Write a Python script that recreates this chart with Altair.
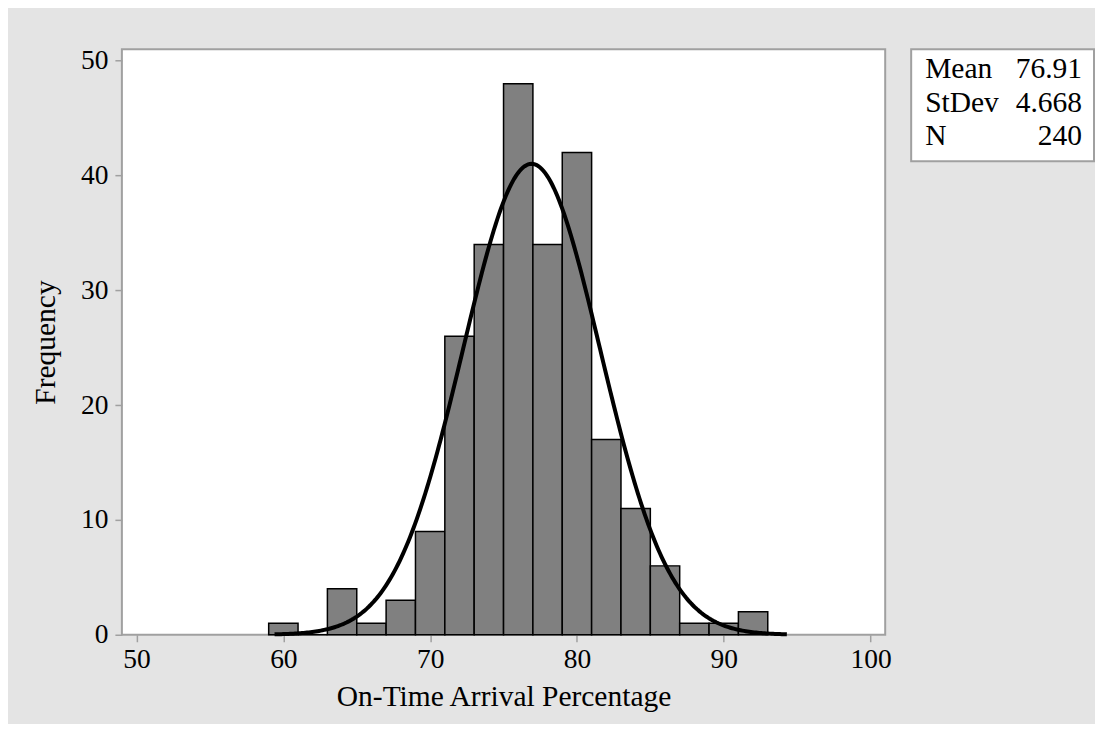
import altair as alt
import numpy as np
import pandas as pd

# ---- data ----
bin_starts = [59, 61, 63, 65, 67, 69, 71, 73, 75, 77, 79, 81, 83, 85, 87, 89, 91]
bin_ends = [61, 63, 65, 67, 69, 71, 73, 75, 77, 79, 81, 83, 85, 87, 89, 91, 93]
counts = [1, 0, 4, 1, 3, 9, 26, 34, 48, 34, 42, 17, 11, 6, 1, 1, 2]

stat_labels = ["Mean", "StDev", "N"]
stat_values = ["76.91", "4.668", "240"]
mean_val = 76.91
sd_val = 4.668
n_val = 240
bin_width = 2
curve_range = [59.4, 94.3]

x_ticks = [50, 60, 70, 80, 90, 100]
y_ticks = [0, 10, 20, 30, 40, 50]

# ---- tables ----
bars_df = pd.DataFrame({"start": bin_starts, "end": bin_ends, "count": counts, "zero": 0})

# fitted normal curve defined by the Mean / StDev / N shown in the chart's box
xs = np.linspace(curve_range[0], curve_range[1], 300)
ys = n_val * bin_width * np.exp(-0.5 * ((xs - mean_val) / sd_val) ** 2) / (sd_val * np.sqrt(2 * np.pi))
curve_df = pd.DataFrame({"x": xs, "y": ys})

FONT = "Liberation Serif"
W, H = 764, 586

x_scale = alt.Scale(domain=[49, 101], nice=False, zero=False)
y_scale = alt.Scale(domain=[0, 51], nice=False)

x_axis = alt.Axis(
    values=x_ticks, grid=False, domain=False, ticks=True, tickSize=7, tickColor="#a0a0a0",
    tickWidth=1.5, labelFont=FONT, labelFontSize=27.5, labelColor="black", labelPadding=4,
    title="On-Time Arrival Percentage", titleFont=FONT, titleFontSize=29.5,
    titleFontWeight="normal", titleColor="black", titleBaseline="alphabetic",
    titleX=382, titleY=71, titleAnchor="middle", titleAlign="center",
)
y_axis = alt.Axis(
    values=y_ticks, grid=False, domain=False, ticks=True, tickSize=7, tickColor="#a0a0a0",
    tickWidth=1.5, labelFont=FONT, labelFontSize=27.5, labelColor="black", labelPadding=7,
    title="Frequency", titleFont=FONT, titleFontSize=29.5, titleFontWeight="normal",
    titleColor="black", titleBaseline="alphabetic", titleX=-67, titleY=293,
    titleAngle=-90, titleAlign="center",
)

bars = alt.Chart(bars_df).mark_rect(fill="#808080", stroke="black", strokeWidth=1.5).encode(
    x=alt.X("start:Q", scale=x_scale, axis=x_axis),
    x2="end:Q",
    y=alt.Y("count:Q", scale=y_scale, axis=y_axis),
    y2="zero:Q",
)

curve = alt.Chart(curve_df).mark_line(color="black", strokeWidth=4).encode(
    x=alt.X("x:Q", scale=x_scale),
    y=alt.Y("y:Q", scale=y_scale),
)

box_df = pd.DataFrame({"a": [0]})
box = alt.Chart(box_df).mark_rect(fill="white", stroke="#a0a0a0", strokeWidth=2).encode(
    x=alt.value(790), x2=alt.value(973), y=alt.value(0), y2=alt.value(112)
)

layers = [bars, curve, box]
baselines = [29, 63, 96]
for lab, val, by in zip(stat_labels, stat_values, baselines):
    layers.append(
        alt.Chart(box_df).mark_text(align="left", baseline="alphabetic", font=FONT,
                                    fontSize=29.5, color="black").encode(
            x=alt.value(804), y=alt.value(by), text=alt.value(lab))
    )
    layers.append(
        alt.Chart(box_df).mark_text(align="right", baseline="alphabetic", font=FONT,
                                    fontSize=29.5, color="black").encode(
            x=alt.value(961), y=alt.value(by), text=alt.value(val))
    )

chart = alt.layer(*layers).properties(
    width=W, height=H, autosize="none",
    padding={"left": 114, "top": 41, "right": 210, "bottom": 89},
).configure(background="#e4e4e4").configure_view(
    fill="white", stroke="#a0a0a0", strokeWidth=2
)

chart.save("out.html", embed_options={"renderer": "svg", "actions": False})
